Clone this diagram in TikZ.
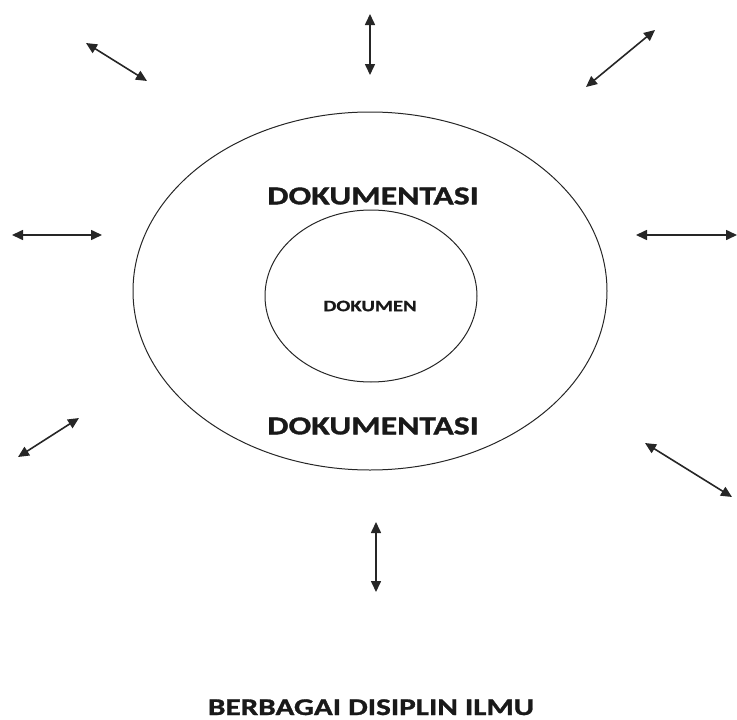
\documentclass[tikz,border=0pt]{standalone}
\usepackage{fontspec}
\usetikzlibrary{arrows.meta}
\newfontfamily\labelfont[FakeStretch=1.3,FakeBold=1.2]{Carlito}
\begin{document}
\begin{tikzpicture}[x=1pt,y=-1pt,
  ring/.style={draw=black!85,line width=1pt},
  twoway/.style={{Triangle[length=11pt,width=10pt]}-{Triangle[length=11pt,width=10pt]},line width=1.6pt,black!85},
  lbl/.style={font=\labelfont\bfseries,text=black!90,inner sep=0pt}]
\useasboundingbox (0,0) rectangle (737,720);

% field and core
\draw[ring] (370,291) ellipse [x radius=237,y radius=179];
\draw[ring] (371,296) ellipse [x radius=106,y radius=86];

\node[lbl,font=\labelfont\bfseries\fontsize{25.9}{28}\selectfont] (dokTop) at (373,196) {DOKUMENTASI};
\node[lbl,font=\labelfont\bfseries\fontsize{25.9}{28}\selectfont] (dokBot) at (373,426) {DOKUMENTASI};
\node[lbl,font=\labelfont\bfseries\fontsize{15.9}{18}\selectfont] (core) at (370,306) {DOKUMEN};
\node[lbl,anchor=base,font=\labelfont\bfseries\fontsize{24}{27}\selectfont] (field) at (371,715) {BERBAGAI DISIPLIN ILMU};

% exchange arrows around the field
\coordinate (tlA) at (86,43);   \coordinate (tlB) at (147,81);
\coordinate (tA)  at (370,14);  \coordinate (tB)  at (370,75);
\coordinate (trA) at (655,30);  \coordinate (trB) at (586,87);
\coordinate (lA)  at (12,235);  \coordinate (lB)  at (102,235);
\coordinate (rA)  at (636,235); \coordinate (rB)  at (737,235);
\coordinate (blA) at (18,457);  \coordinate (blB) at (79,418);
\coordinate (brA) at (645,443); \coordinate (brB) at (732,497);
\coordinate (bA)  at (376,522); \coordinate (bB)  at (376,592);

\draw[twoway] (tlA) -- (tlB);
\draw[twoway] (tA) -- (tB);
\draw[twoway] (trA) -- (trB);
\draw[twoway] (lA) -- (lB);
\draw[twoway] (rA) -- (rB);
\draw[twoway] (blA) -- (blB);
\draw[twoway] (brA) -- (brB);
\draw[twoway] (bA) -- (bB);
\end{tikzpicture}
\end{document}
